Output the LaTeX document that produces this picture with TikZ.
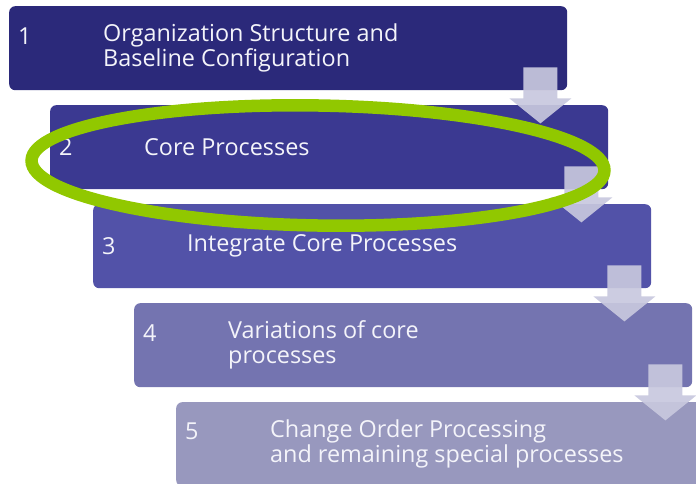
\documentclass[tikz,border=0pt]{standalone}
\usepackage{fontspec}
\setmainfont{Open Sans}
\usetikzlibrary{calc}
\definecolor{cA}{RGB}{43,41,122}
\definecolor{cB}{RGB}{59,57,145}
\definecolor{cC}{RGB}{82,82,168}
\definecolor{cD}{RGB}{116,116,176}
\definecolor{cE}{RGB}{152,152,190}
\definecolor{arr}{RGB}{200,200,222}
\definecolor{grn}{RGB}{145,200,0}
\definecolor{txt}{RGB}{244,244,250}
\tikzset{
  stepbox/.style={rectangle, rounded corners=6pt, minimum width=558pt, minimum height=84pt, anchor=north west, inner sep=0pt},
  numlbl/.style={anchor=west, inner sep=0pt, text=txt, font=\fontsize{23.4}{25}\selectfont},
  boxlbl/.style={anchor=west, inner sep=0pt, text=txt, align=left, font=\fontsize{23.4}{25}\selectfont},
  downarr/.style={fill=arr, fill opacity=0.92}
}
\newcommand{\stepdownarrow}[1]{%
  \fill[downarr] ($(#1.south east)+(-44,-23)$) -- ($(#1.south east)+(-10,-23)$) -- ($(#1.south east)+(-10,8)$) -- ($(#1.south east)+(4,8)$) -- ($(#1.south east)+(-27,33)$) -- ($(#1.south east)+(-58,8)$) -- ($(#1.south east)+(-44,8)$) -- cycle;}
\begin{document}
\begin{tikzpicture}[x=1pt,y=-1pt]
\useasboundingbox (0,0) rectangle (696,484);
\clip (0,0) rectangle (696,484);
\node[stepbox, fill=cA] (b1) at (9,6) {};
\node[stepbox, fill=cB] (b2) at (50,105) {};
\node[stepbox, fill=cC] (b3) at (93,204) {};
\node[stepbox, fill=cD] (b4) at (134,303) {};
\node[stepbox, fill=cE] (b5) at (176,402) {};
\stepdownarrow{b1}
\stepdownarrow{b2}
\stepdownarrow{b3}
\stepdownarrow{b4}
\node[boxlbl] (t1) at ($(b1.west)+(94,0)$) {Organization Structure and\\Baseline Configuration};
\node[numlbl] (n1) at ($(b1.west)+(9,-12.5)$) {1};
\node[boxlbl] (t2) at ($(b2.west)+(94,0)$) {Core Processes};
\node[numlbl] (n2) at ($(b2.west)+(9,0)$) {2};
\node[boxlbl] (t3) at ($(b3.west)+(94,0)$) {Integrate Core Processes};
\node[numlbl] (n3) at ($(b3.west)+(9,0)$) {3};
\node[boxlbl] (t4) at ($(b4.west)+(94,0)$) {Variations of core\\processes};
\node[numlbl] (n4) at ($(b4.west)+(9,-12.5)$) {4};
\node[boxlbl] (t5) at ($(b5.west)+(94,0)$) {Change Order Processing\\and remaining special processes};
\node[numlbl] (n5) at ($(b5.west)+(9,-12.5)$) {5};
\draw[grn, line width=12.5pt] (318,165.5) ellipse [x radius=286.5, y radius=60, rotate=-1];
\end{tikzpicture}
\end{document}
